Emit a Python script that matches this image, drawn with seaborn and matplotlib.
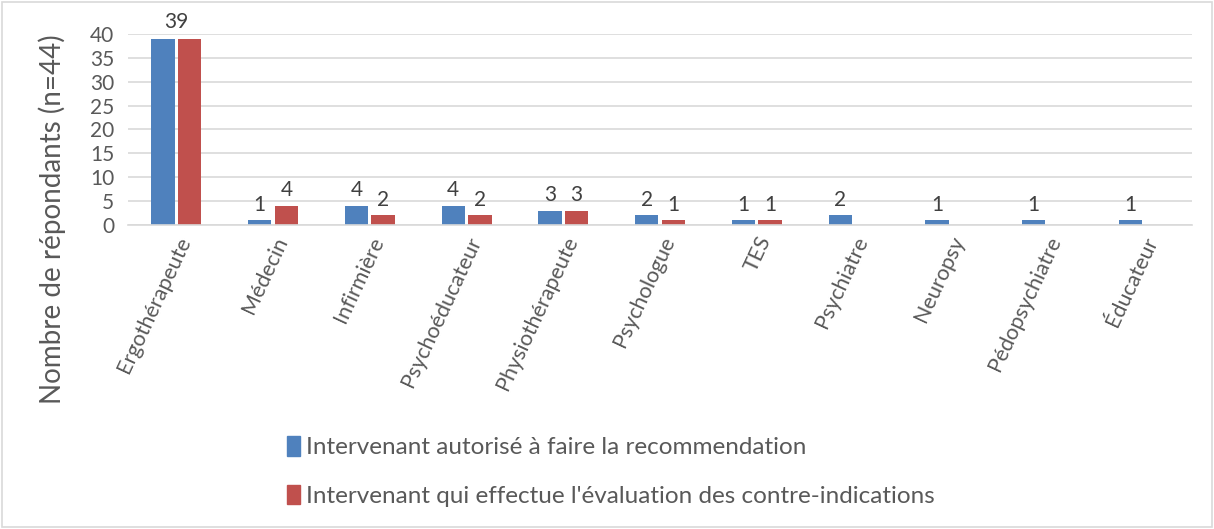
import matplotlib.pyplot as plt
import matplotlib.patches as mpatches
import seaborn as sns
import numpy as np
import pandas as pd

categories = ['Ergothérapeute', 'Médecin', 'Infirmière', 'Psychoéducateur', 'Physiothérapeute',
              'Psychologue', 'TES', 'Psychiatre', 'Neuropsy', 'Pédopsychiatre', 'Éducateur']
recommandation = [39, 1, 4, 4, 3, 2, 1, 2, 1, 1, 1]
evaluation = [39, 4, 2, 2, 3, 1, 1, np.nan, np.nan, np.nan, np.nan]
series_names = ['Intervenant autorisé à faire la recommendation',
                "Intervenant qui effectue l'évaluation des contre-indications"]
colors = ['#4F81BD', '#C0504D']

df = pd.DataFrame({
    'cat': categories * 2,
    'val': recommandation + evaluation,
    'serie': [series_names[0]] * len(categories) + [series_names[1]] * len(categories),
})

sns.set_style('white')
plt.rcParams['font.family'] = ['Lato', 'DejaVu Sans']
txt = '#595959'

fig = plt.figure(figsize=(12.14, 5.29), dpi=100)
ax = fig.add_axes([0.1054, 0.5747, 0.8766, 0.361])

sns.barplot(data=df, x='cat', y='val', hue='serie', palette=colors, order=categories,
            hue_order=series_names, width=0.55, gap=0.12, ax=ax, legend=False,
            saturation=1, edgecolor='none')

# Excel ne garde qu'une étiquette "39" quand les deux se chevauchent
for k, cont in enumerate(ax.containers):
    labels = []
    for i, v in enumerate(cont.datavalues):
        if np.isnan(v) or (i == 0 and recommandation[0] == evaluation[0]):
            labels.append('')
        else:
            labels.append(f'{int(v)}')
    ax.bar_label(cont, labels=labels, padding=4, fontsize=15, color='#404040')
ax.annotate(f'{recommandation[0]}', (0, recommandation[0]), xytext=(0, 5),
            textcoords='offset points', ha='center', va='bottom',
            fontsize=15, color='#404040', annotation_clip=False)

ax.set_ylim(0, 40)
ax.set_yticks(range(0, 41, 5))
ax.yaxis.grid(True, color='#D9D9D9', linewidth=1.2)
ax.set_axisbelow(True)
for s in ['top', 'right', 'left']:
    ax.spines[s].set_visible(False)
ax.spines['bottom'].set_color('#D9D9D9')
ax.spines['bottom'].set_linewidth(1.2)
ax.tick_params(axis='y', labelsize=15, colors=txt, length=0, pad=10)
ax.tick_params(axis='x', labelsize=15.5, colors=txt, length=0, pad=6)
plt.setp(ax.get_xticklabels(), rotation=65, ha='right', rotation_mode='anchor')
ax.set_xlabel('')
ax.set_ylabel('Nombre de répondants (n=44)', fontsize=20, color=txt)
ax.yaxis.set_label_coords(-0.058, 0.03)

handles = [mpatches.Patch(color=c) for c in colors]
fig.legend(handles, series_names, loc='lower left', bbox_to_anchor=(0.218, 0.0),
           frameon=False, fontsize=17.5, labelcolor=txt, handlelength=0.55, handleheight=0.85,
           handletextpad=0.25, labelspacing=1.1)

fig.add_artist(mpatches.Rectangle((0.002, 0.003), 0.996, 0.994, transform=fig.transFigure,
                                  fill=False, edgecolor='#D9D9D9', linewidth=1.2))

fig.savefig('out.png', dpi=100)
